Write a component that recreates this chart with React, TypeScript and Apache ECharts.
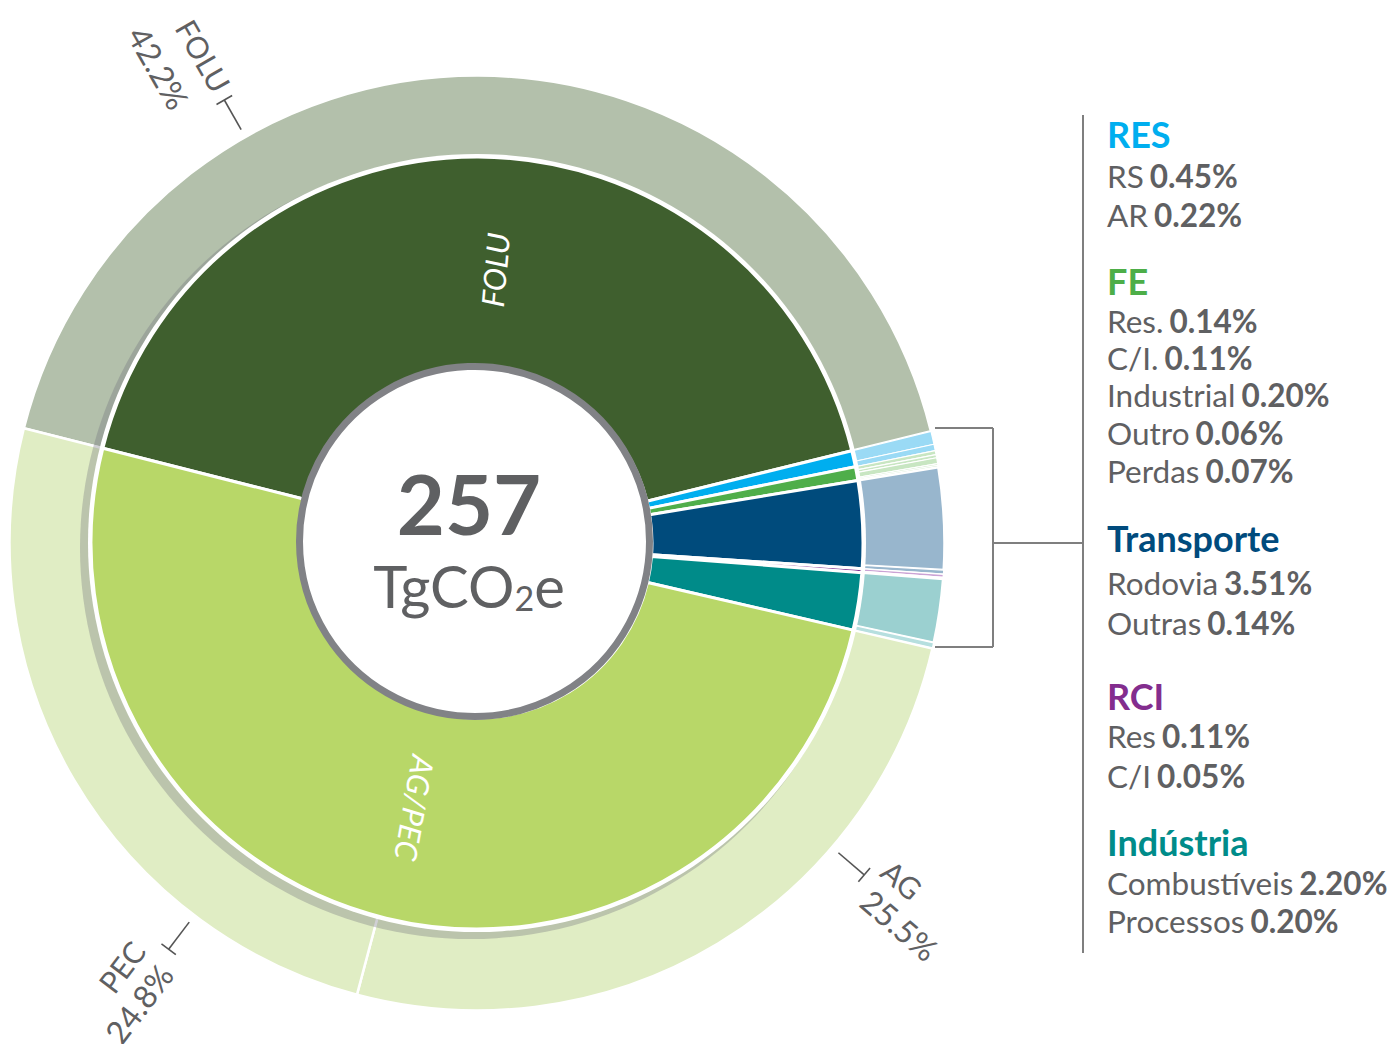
import React, { useEffect, useRef } from 'react';
import * as echarts from 'echarts';

// ---------- data ----------
const TOTAL_VALUE = '257';
const UNIT_MAIN = 'TgCO';
const UNIT_SUB = '2';
const UNIT_END = 'e';

const innerNames = ['FOLU', 'RES', 'FE', 'Transporte', 'RCI', 'Indústria', 'AG/PEC'];
const innerValues = [42.2, 0.67, 0.58, 3.65, 0.16, 2.4, 50.3];
const innerColors = ['#3F5F2E', '#00AEEF', '#4FAE4A', '#004B7C', '#7D2E8E', '#008B89', '#B8D768'];

const outerNames = ['FOLU', 'RS', 'AR', 'Res.', 'C/I.', 'Industrial', 'Outro', 'Perdas', 'Rodovia', 'Outras', 'Res', 'C/I', 'Combustíveis', 'Processos', 'AG', 'PEC'];
const outerValues = [42.2, 0.45, 0.22, 0.14, 0.11, 0.2, 0.06, 0.07, 3.51, 0.14, 0.11, 0.05, 2.2, 0.2, 25.5, 24.8];
const outerColors = ['#B3C0AB', '#9ADAF5', '#9ADAF5', '#C8E6C2', '#C8E6C2', '#C8E6C2', '#C8E6C2', '#C8E6C2', '#98B6CD', '#98B6CD', '#CBA3D5', '#CBA3D5', '#9BD0D0', '#B6DFDF', '#E0EDC4', '#E0EDC4'];
const outerBorder = [2.5, 1.2, 1.2, 1.2, 1.2, 1.2, 1.2, 1.2, 2.5, 1.2, 1.5, 1.5, 2.5, 1.5, 2.5, 2.5];

const legendTitles = ['RES', 'FE', 'Transporte', 'RCI', 'Indústria'];
const legendTitleColors = ['#00AEEF', '#4DAE48', '#004B7D', '#832D8E', '#008C8A'];
const legendMembers = [[1, 2], [3, 4, 5, 6, 7], [8, 9], [10, 11], [12, 13]];

// ---------- layout ----------
const CX = 477;
const CY = 543;
const START_ANGLE = 165.8;
const FONT = 'Lato, "Open Sans", "Noto Sans", sans-serif';
const GRAY = '#5F6062';
const LEGEND_X = 1107;
const TITLE_Y = [148, 295, 552, 710, 856];
const ITEM_Y = [[188, 227], [333, 370, 407, 445, 483], [595, 635], [748, 788], [895, 933]];
const CENTRAL = 0.387; // central-baseline offset (em)
const RING_R = 476;
const TICK_R = 510;

const radialLabels = [
  { idx: 0, angle: 119.7, side: 'in', l1: [-10, -4], l2: [-16, 41] },
  { idx: 14, angle: -40.6, side: 'out', l1: [11, -21], l2: [15, 15] },
  { idx: 15, angle: -127.2, side: 'in', l1: [-15, -27], l2: [-17, 9] },
];

function pt(r: number, deg: number): [number, number] {
  const a = (deg * Math.PI) / 180;
  return [CX + r * Math.cos(a), CY - r * Math.sin(a)];
}

function buildGraphics(): any[] {
  const g: any[] = [];
  // drop shadow under the inner ring
  g.push({
    type: 'circle', z: 2, silent: true,
    shape: { cx: CX - 6, cy: CY + 5, r: 391 },
    style: { fill: 'rgba(110,110,120,0.32)' },
  });
  g.push({
    type: 'circle', z: 2, z2: 5, silent: true,
    shape: { cx: CX, cy: CY, r: 389 },
    style: { fill: '#ffffff' },
  });
  // center disc
  g.push({
    type: 'circle', z: 10, silent: true,
    shape: { cx: 474.5, cy: 541.5, r: 175 },
    style: { fill: '#ffffff', stroke: '#818286', lineWidth: 7 },
  });
  g.push({
    type: 'text', z: 11, silent: true, x: 469, y: 535 - CENTRAL * 83,
    style: { text: TOTAL_VALUE, font: `bold 83px ${FONT}`, fill: GRAY, align: 'center', verticalAlign: 'middle' },
  });
  g.push({
    type: 'text', z: 11, silent: true, x: 469, y: 608 - CENTRAL * 58,
    style: {
      text: `{a|${UNIT_MAIN}}{b|${UNIT_SUB}}{a|${UNIT_END}}`,
      align: 'center', verticalAlign: 'middle',
      rich: {
        a: { fontSize: 58, fontFamily: FONT, fill: GRAY, lineHeight: 58 },
        b: { fontSize: 34, fontFamily: FONT, fill: GRAY, lineHeight: 40, verticalAlign: 'bottom' },
      },
    },
  });
  // inner ring labels
  g.push({
    type: 'text', z: 11, silent: true, x: 495, y: 270, rotation: (85 * Math.PI) / 180,
    style: { text: innerNames[0], font: `italic 31px ${FONT}`, fill: '#ffffff', align: 'center', verticalAlign: 'middle' },
  });
  g.push({
    type: 'text', z: 11, silent: true, x: 415, y: 808, rotation: (-100 * Math.PI) / 180,
    style: { text: innerNames[6], font: `italic 31px ${FONT}`, fill: '#ffffff', align: 'center', verticalAlign: 'middle' },
  });
  // radial outer labels
  radialLabels.forEach((L) => {
    const [x, y] = pt(TICK_R, L.angle);
    const rotDeg = L.side === 'in' ? L.angle + (L.angle > 0 ? -180 : 180) : L.angle;
    const len = TICK_R - RING_R;
    const lineX1 = L.side === 'in' ? 0 : -len;
    const lineX2 = L.side === 'in' ? len : 0;
    const align = L.side === 'in' ? 'right' : 'left';
    g.push({
      type: 'group', x, y, rotation: (rotDeg * Math.PI) / 180, z: 11, silent: true,
      children: [
        { type: 'line', z: 11, shape: { x1: lineX1, y1: 0, x2: lineX2, y2: 0 }, style: { stroke: '#555', lineWidth: 1.6 } },
        { type: 'line', z: 11, shape: { x1: 0, y1: -9, x2: 0, y2: 9 }, style: { stroke: '#555', lineWidth: 1.6 } },
        {
          type: 'text', z: 11, x: L.l1[0], y: L.l1[1],
          style: { text: outerNames[L.idx], font: `30px ${FONT}`, fill: GRAY, align, verticalAlign: 'middle' },
        },
        {
          type: 'text', z: 11, x: L.l2[0], y: L.l2[1],
          style: { text: `${outerValues[L.idx].toFixed(1)}%`, font: `32px ${FONT}`, fill: GRAY, align, verticalAlign: 'middle' },
        },
      ],
    });
  });
  // bracket
  const br = '#7F7F7F';
  const lines = [
    [935, 428, 993, 428], [993, 428, 993, 647], [935, 647, 993, 647], [993, 543, 1083, 543], [1083, 115, 1083, 953],
  ];
  lines.forEach(([x1, y1, x2, y2]) => {
    g.push({ type: 'line', z: 11, silent: true, shape: { x1, y1, x2, y2 }, style: { stroke: br, lineWidth: 2 } });
  });
  // legend
  legendTitles.forEach((t, gi) => {
    g.push({
      type: 'text', z: 11, silent: true, x: LEGEND_X, y: TITLE_Y[gi] - CENTRAL * 36,
      style: { text: t, font: `bold 36px ${FONT}`, fill: legendTitleColors[gi], align: 'left', verticalAlign: 'middle' },
    });
    legendMembers[gi].forEach((oi, k) => {
      g.push({
        type: 'text', z: 11, silent: true, x: LEGEND_X, y: ITEM_Y[gi][k] - CENTRAL * 31.5,
        style: {
          text: `{n|${outerNames[oi]}}{v|${outerValues[oi].toFixed(2)}%}`,
          align: 'left', verticalAlign: 'middle',
          rich: {
            n: { fontSize: 31.5, fontFamily: FONT, fill: GRAY, padding: [0, 6, 0, 0] },
            v: { fontSize: 31.5, fontFamily: FONT, fontWeight: 'bold', fill: GRAY },
          },
        },
      });
    });
  });
  return g;
}

export default function App() {
  const ref = useRef<HTMLDivElement>(null);
  useEffect(() => {
    if (!ref.current) return;
    const chart = echarts.init(ref.current, undefined, { renderer: 'svg' });
    const option: any = {
      animation: false,
      backgroundColor: '#ffffff',
      series: [
        {
          type: 'pie', z: 1, silent: true, center: [CX, CY], radius: [387, 467.5],
          startAngle: START_ANGLE, clockwise: true,
          label: { show: false }, labelLine: { show: false },
          itemStyle: { borderColor: '#ffffff', borderWidth: 2.5 },
          data: outerNames.map((n, i) => ({
            name: n, value: outerValues[i],
            itemStyle: { color: outerColors[i], borderWidth: outerBorder[i] },
          })),
        },
        {
          type: 'pie', z: 3, silent: true, center: [CX, CY], radius: [175, 386],
          startAngle: START_ANGLE, clockwise: true,
          label: { show: false }, labelLine: { show: false },
          itemStyle: { borderColor: '#ffffff', borderWidth: 3 },
          data: innerNames.map((n, i) => ({ name: n, value: innerValues[i], itemStyle: { color: innerColors[i] } })),
        },
      ],
      graphic: buildGraphics(),
    };
    chart.setOption(option);
    return () => chart.dispose();
  }, []);
  return <div ref={ref} style={{ position: 'fixed', left: 0, top: 0, width: 1390, height: 1044 }} />;
}
